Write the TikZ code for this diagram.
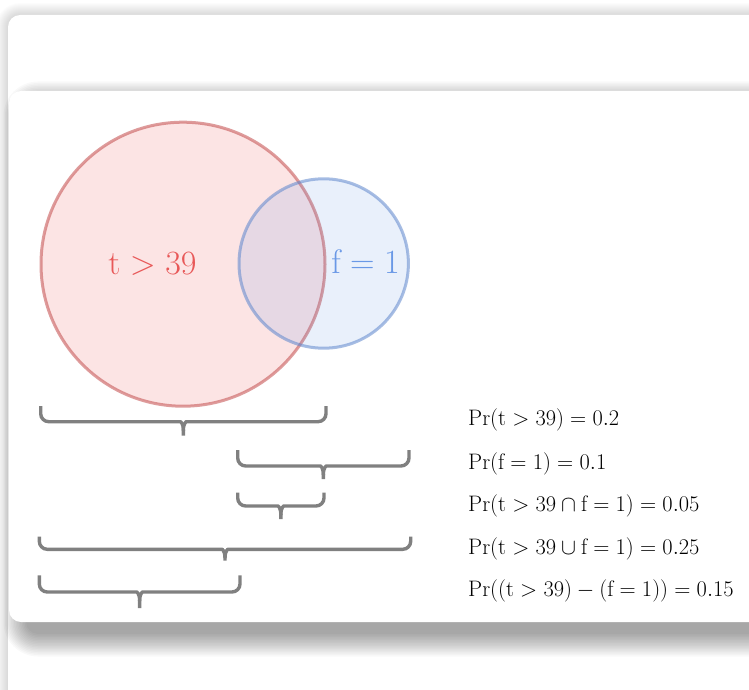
\documentclass[tikz,border=0pt]{standalone}
\usepackage{fix-cm}
\definecolor{redline}{RGB}{195,75,75}
\definecolor{redfill}{RGB}{240,100,100}
\definecolor{blueline}{RGB}{95,135,205}
\definecolor{bluefill}{RGB}{100,150,230}
\definecolor{redtext}{RGB}{232,88,88}
\definecolor{bluetext}{RGB}{105,152,230}
\definecolor{bracegray}{RGB}{128,128,128}
\tikzset{
  card/.style={fill=white, rounded corners=12pt},
  setcircle/.style={circle, inner sep=0pt, line width=3pt, draw opacity=0.55},
  bracestyle/.style={draw=bracegray, line width=3.4pt},
  bigmath/.style={font=\fontsize{34}{40}\selectfont},
  prlabel/.style={anchor=west, inner sep=0pt, font=\fontsize{22.4}{27}\selectfont},
}
\newcommand\cbrace[5]{%
  \pgfmathsetmacro\bm{(#1+#2)/2}%
  \draw[bracestyle] (#1,#3) [rounded corners=8pt] -- (#1,#4) -- (\bm-11,#4) [sharp corners] .. controls (\bm-3,#4) and (\bm,#4+1) .. (\bm,#4+9) -- (\bm,#5);
  \draw[bracestyle] (#2,#3) [rounded corners=8pt] -- (#2,#4) -- (\bm+11,#4) [sharp corners] .. controls (\bm+3,#4) and (\bm,#4+1) .. (\bm,#4+9);
}
\begin{document}
\begin{tikzpicture}[x=1pt,y=-1pt]
\useasboundingbox (0,0) rectangle (749,690);
\fill[white] (0,0) rectangle (749,690);
% back card shadow and card
\foreach \k in {0,...,12} {
  \fill[black, opacity=0.012, rounded corners=12+\k] (8-\k,15-\k) rectangle (800+\k,740+\k);
}
\path[card] (8,15) rectangle (800,740);
% front card shadow and card
\foreach \k in {0,...,15} {
  \fill[black, opacity=0.022, rounded corners=12+1.5*\k] (26-1.5*\k,104-1.5*\k) rectangle (800+1.5*\k,634+1.5*\k);
}
\path[card] (9,91) rectangle (800,622);
% sets
\node[setcircle, minimum size=284pt, draw=redline, fill=redfill, fill opacity=0.17] (T) at (183,264.2) {};
\node[setcircle, minimum size=169.4pt, draw=blueline, fill=bluefill, fill opacity=0.14] (F) at (323.7,263.5) {};
\node[bigmath, text=redtext] (TL) at (152.5,264) {$\mathrm{t}>39$};
\node[bigmath, text=bluetext] (FL) at (365.5,262) {$\mathrm{f}=1$};
% braces
\cbrace{40.7}{326}{406}{421.7}{435.7}
\cbrace{237.7}{409}{450}{466}{479}
\cbrace{237.7}{324}{492.7}{506}{519}
\cbrace{39.3}{410.7}{536.7}{549.3}{560.7}
\cbrace{39.3}{240}{575.3}{592}{608}
% labels
\node[prlabel] (P1) at (468,420) {$\Pr(\mathrm{t}>39)=0.2$};
\node[prlabel] (P2) at (468,464) {$\Pr(\mathrm{f}=1)=0.1$};
\node[prlabel] (P3) at (468,506) {$\Pr(\mathrm{t}>39\cap\mathrm{f}=1)=0.05$};
\node[prlabel] (P4) at (468,549) {$\Pr(\mathrm{t}>39\cup\mathrm{f}=1)=0.25$};
\node[prlabel] (P5) at (468,591) {$\Pr((\mathrm{t}>39)-(\mathrm{f}=1))=0.15$};
\end{tikzpicture}
\end{document}
